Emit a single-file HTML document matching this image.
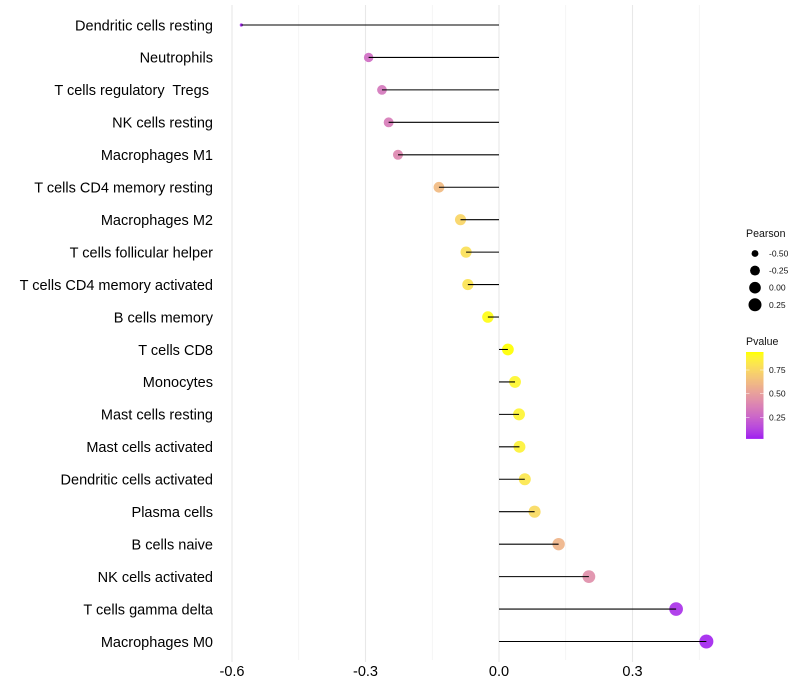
<!DOCTYPE html>
<html>
<head>
<meta charset="utf-8">
<title>Immune cell correlation lollipop chart</title>
<style>
html,body{margin:0;padding:0;background:#fff;width:800px;height:700px;overflow:hidden}
svg{display:block}
text{font-family:"Liberation Sans",Arial,sans-serif;white-space:pre}
</style>
</head>
<body>
<svg id="chart" width="800" height="700" viewBox="0 0 800 700" xmlns="http://www.w3.org/2000/svg">
  <rect width="800" height="700" fill="#ffffff"></rect>
  <g id="grid"></g>
  <g id="points"></g>
  <g id="stems"></g>
  <g id="ylabels"></g>
  <g id="xlabels"></g>
  <g id="size-legend"></g>
  <g id="color-legend"></g>
</svg>
<script>
const categories = ["Dendritic cells resting","Neutrophils","T cells regulatory  Tregs ","NK cells resting","Macrophages M1","T cells CD4 memory resting","Macrophages M2","T cells follicular helper","T cells CD4 memory activated","B cells memory","T cells CD8","Monocytes","Mast cells resting","Mast cells activated","Dendritic cells activated","Plasma cells","B cells naive","NK cells activated","T cells gamma delta","Macrophages M0"];
const pearsonValues = [-0.579,-0.293,-0.263,-0.248,-0.227,-0.135,-0.0865,-0.074,-0.07,-0.025,0.02,0.036,0.045,0.046,0.058,0.08,0.134,0.202,0.398,0.466];
const pValues = [0.03,0.29,0.33,0.35,0.4,0.63,0.75,0.8,0.81,0.93,0.94,0.9,0.89,0.88,0.83,0.77,0.6,0.43,0.07,0.04];
const xMajorTicks = [-0.6,-0.3,0,0.3];
const xMajorLabels = ["-0.6","-0.3","0.0","0.3"];
const xMinorTicks = [-0.45,-0.15,0.15,0.45];
const sizeLegendValues = [-0.5,-0.25,0,0.25];
const sizeLegendLabels = ["-0.50","-0.25","0.00","0.25"];
const colorLegendTicks = [0.75,0.5,0.25];
const colorLegendLabels = ["0.75","0.50","0.25"];

const NS = "http://www.w3.org/2000/svg";
function mk(tag, attrs, parent, txt){
  const e = document.createElementNS(NS, tag);
  for (const k in attrs) e.setAttribute(k, attrs[k]);
  if (txt !== undefined) e.textContent = txt;
  parent.appendChild(e);
  return e;
}
const xScale = v => 499 + v * 445;
const yScale = i => 25 + i * (616.5 / (categories.length - 1));
const pMin = 0.027, pMax = 0.94;
const pearsonMin = Math.min(...pearsonValues), pearsonMax = Math.max(...pearsonValues);
function radius(v){
  const t = Math.max(0, (v - pearsonMin) / (pearsonMax - pearsonMin));
  return 1.6 + 5.4 * Math.pow(t, 0.42);
}
function srgb2lin(c){ c /= 255; return c <= 0.04045 ? c / 12.92 : Math.pow((c + 0.055) / 1.055, 2.4); }
function lin2srgb(c){ c = Math.min(1, Math.max(0, c)); return Math.round(255 * (c <= 0.0031308 ? 12.92 * c : 1.055 * Math.pow(c, 1 / 2.4) - 0.055)); }
function toLab(rgb){
  const r = srgb2lin(rgb[0]), g = srgb2lin(rgb[1]), b = srgb2lin(rgb[2]);
  const X = (0.4124 * r + 0.3576 * g + 0.1805 * b) / 0.95047, Y = 0.2126 * r + 0.7152 * g + 0.0722 * b, Z = (0.0193 * r + 0.1192 * g + 0.9505 * b) / 1.08883;
  const f = t => t > 0.008856 ? Math.cbrt(t) : 7.787 * t + 16 / 116;
  return [116 * f(Y) - 16, 500 * (f(X) - f(Y)), 200 * (f(Y) - f(Z))];
}
function fromLab(L){
  const fy = (L[0] + 16) / 116, fx = fy + L[1] / 500, fz = fy - L[2] / 200;
  const g = t => t * t * t > 0.008856 ? t * t * t : (t - 16 / 116) / 7.787;
  const X = g(fx) * 0.95047, Y = g(fy), Z = g(fz) * 1.08883;
  return "rgb(" + lin2srgb(3.2406 * X - 1.5372 * Y - 0.4986 * Z) + "," + lin2srgb(-0.9689 * X + 1.8758 * Y + 0.0415 * Z) + "," + lin2srgb(0.0557 * X - 0.204 * Y + 1.057 * Z) + ")";
}
const labLow = toLab([160, 32, 240]), labHigh = toLab([255, 255, 0]);
function pColor(p){
  const t = Math.min(1, Math.max(0, (p - pMin) / (pMax - pMin)));
  return fromLab(labLow.map((a, i) => a + (labHigh[i] - a) * t));
}

const grid = document.getElementById("grid");
xMinorTicks.forEach(v => {
  const el = mk("line", {x1: xScale(v), x2: xScale(v), y1: 5, y2: 660, stroke: "#efefef", "stroke-width": 0.6}, grid);
  
  
});
xMajorTicks.forEach(v => {
  const el = mk("line", {x1: xScale(v), x2: xScale(v), y1: 5, y2: 662, stroke: "#e8e8e8", "stroke-width": 1.1}, grid);
  
  
});

const pointsG = document.getElementById("points");
const stemsG = document.getElementById("stems");
const ylabelsG = document.getElementById("ylabels");
categories.forEach((c, i) => {
  const v = pearsonValues[i], y = yScale(i);
  const pt = mk("circle", {cx: xScale(v), cy: y, r: radius(v), fill: pColor(pValues[i]), "fill-opacity": 0.92}, pointsG);
  
  
  const st = mk("line", {x1: xScale(0), x2: xScale(v), y1: y, y2: y, stroke: "#000", "stroke-width": 1.07}, stemsG);
  
  
  const lb = mk("text", {x: 213, y: y + 5.3, "text-anchor": "end", "font-size": 14.52, fill: "#000", "xml:space": "preserve"}, ylabelsG, c);
  
  
});

const xlabelsG = document.getElementById("xlabels");
xMajorTicks.forEach((v, i) => {
  const t = mk("text", {x: xScale(v), y: 676, "text-anchor": "middle", "font-size": 14.52, fill: "#000"}, xlabelsG, xMajorLabels[i]);
  
  
});

const sl = document.getElementById("size-legend");
const slTitle = mk("text", {x: 746, y: 237, "font-size": 10.6, fill: "#111"}, sl, "Pearson");


sizeLegendValues.forEach((v, i) => {
  const cy = 253.5 + i * 17.1;
  const c = mk("circle", {cx: 755, cy: cy, r: radius(v), fill: "#000"}, sl);
  
  
  const t = mk("text", {x: 769, y: cy + 3, "font-size": 8.5, fill: "#111"}, sl, sizeLegendLabels[i]);
  
  
});

const cl = document.getElementById("color-legend");
const clTitle = mk("text", {x: 746, y: 345, "font-size": 10.6, fill: "#111"}, cl, "Pvalue");


const barTop = 352, barBottom = 438.5, barX = 746, barW = 17.5;
const pToBarY = p => barBottom - (p - pMin) / (pMax - pMin) * (barBottom - barTop);
const barSteps = 87;
for (let s = 0; s < barSteps; s++) {
  const t = s / (barSteps - 1);
  const h = (barBottom - barTop) / barSteps;
  const r = mk("rect", {x: barX, y: barBottom - (s + 1) * h, width: barW, height: h + 0.4, fill: pColor(pMin + t * (pMax - pMin))}, cl);
  
  
}
colorLegendTicks.forEach((p, i) => {
  const y = pToBarY(p);
  const t1 = mk("line", {x1: barX, x2: barX + 3.5, y1: y, y2: y, stroke: "#fff", "stroke-width": 0.5}, cl);
  
  
  const t2 = mk("line", {x1: barX + barW - 3.5, x2: barX + barW, y1: y, y2: y, stroke: "#fff", "stroke-width": 0.5}, cl);
  
  
  const t = mk("text", {x: 769, y: y + 3, "font-size": 8.5, fill: "#111"}, cl, colorLegendLabels[i]);
  
  
});
</script>
</body>
</html>
